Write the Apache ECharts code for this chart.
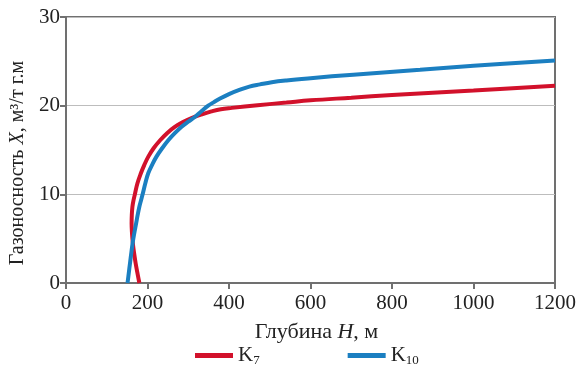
<!DOCTYPE html>
<html>
<head>
<meta charset="utf-8">
<script src="https://cdn.jsdelivr.net/npm/echarts@6/dist/echarts.min.js"></script>
<style>
  html, body { margin: 0; padding: 0; background: #fff; }
  #chart { width: 586px; height: 376px; }
</style>
</head>
<body>
<div id="chart"></div>
<script>
// K7 curve: depth H (m) and gas content X
var k7Depth = [180, 175, 171, 167, 164, 162, 161, 161.5, 163, 165.5, 169, 175, 184, 192, 202, 215, 231, 248, 267, 287, 308, 332, 357, 380, 407, 470, 541, 600, 700, 800, 1000, 1200];
var k7Gas   = [0, 1.2, 2.2, 3.4, 4.5, 5.6, 6.7, 7.7, 8.6, 9.3, 10, 11.2, 12.4, 13.3, 14.25, 15.2, 16.1, 16.9, 17.6, 18.15, 18.6, 19.0, 19.35, 19.6, 19.75, 20.05, 20.35, 20.6, 20.9, 21.2, 21.7, 22.25];
// K10 curve
var k10Depth = [151, 154, 157, 160, 163.5, 167.5, 172, 176, 180, 184, 188, 195, 202, 211, 222, 236, 251, 267, 283, 300, 317, 333, 349, 363, 378, 400, 427, 450, 476, 505, 541, 600, 705, 869, 1000, 1200];
var k10Gas   = [0, 1.1, 2.2, 3.3, 4.5, 5.6, 6.7, 7.7, 8.6, 9.3, 10, 11.3, 12.4, 13.3, 14.25, 15.2, 16.1, 16.9, 17.6, 18.2, 18.75, 19.4, 20, 20.4, 20.8, 21.3, 21.8, 22.15, 22.4, 22.65, 22.85, 23.1, 23.5, 24.05, 24.5, 25.1];

var seriesNames = ['K7', 'K10'];
var seriesColors = ['#d2112b', '#1b7fc1'];

function pairs(xs, ys) {
  var out = [];
  for (var i = 0; i < xs.length; i++) {
    out.push([xs[i], ys[i]]);
  }
  return out;
}

var font = 'Liberation Serif';
var axisColor = '#707070';

var myChart = echarts.init(document.getElementById('chart'));
myChart.setOption({
  animation: false,
  textStyle: { fontFamily: font },
  grid: {
    left: 66, right: 31, top: 17, bottom: 93,
    outerBoundsMode: 'none',
    containLabel: false,
    show: true, borderColor: axisColor, borderWidth: 2
  },
  legend: {
    bottom: 4,
    left: 190,
    itemWidth: 38,
    itemHeight: 5,
    itemGap: 88,
    icon: 'rect',
    data: seriesNames,
    formatter: function (name) {
      return '{a|K}{s|' + name.slice(1) + '}';
    },
    textStyle: {
      rich: {
        a: { fontFamily: font, fontSize: 21, color: '#222' },
        s: { fontFamily: font, fontSize: 13, color: '#222', padding: [10, 0, 0, 0] }
      }
    }
  },
  xAxis: {
    type: 'value',
    min: 0, max: 1200, interval: 200,
    name: 'Глубина {i|H}, м',
    nameLocation: 'middle',
    nameGap: 38,
    nameTextStyle: {
      fontFamily: font, fontSize: 22, color: '#222',
      padding: [0, 0, 0, 12],
      rich: { i: { fontFamily: font, fontSize: 22, fontStyle: 'italic', color: '#222' } }
    },
    axisLine: { show: true, lineStyle: { color: axisColor, width: 2 } },
    axisTick: { show: true, length: 6, lineStyle: { color: axisColor, width: 2 } },
    axisLabel: {
      fontFamily: font, fontSize: 21, color: '#222', margin: 10,
      formatter: function (v) { return String(v); }
    },
    splitLine: { show: false }
  },
  yAxis: {
    type: 'value',
    min: 0, max: 30, interval: 10,
    name: 'Газоносность {i|X}, м³/т г.м',
    nameLocation: 'middle',
    nameGap: 38,
    nameTextStyle: {
      fontFamily: font, fontSize: 20, color: '#222',
      padding: [0, 26, 0, 0],
      rich: { i: { fontFamily: font, fontSize: 20, fontStyle: 'italic', color: '#222' } }
    },
    axisLine: { show: true, lineStyle: { color: axisColor, width: 2 } },
    axisTick: { show: true, length: 6, lineStyle: { color: axisColor, width: 2 } },
    axisLabel: { fontFamily: font, fontSize: 21, color: '#222', margin: 6 },
    splitLine: { show: true, lineStyle: { color: '#bdbdbd', width: 1 } }
  },
  series: [
    {
      name: seriesNames[0],
      type: 'line',
      smooth: 0.4,
      showSymbol: false,
      data: pairs(k7Depth, k7Gas),
      itemStyle: { color: seriesColors[0] },
      lineStyle: { color: seriesColors[0], width: 4 }
    },
    {
      name: seriesNames[1],
      type: 'line',
      smooth: 0.4,
      showSymbol: false,
      data: pairs(k10Depth, k10Gas),
      itemStyle: { color: seriesColors[1] },
      lineStyle: { color: seriesColors[1], width: 4 }
    }
  ]
});
</script>
</body>
</html>
